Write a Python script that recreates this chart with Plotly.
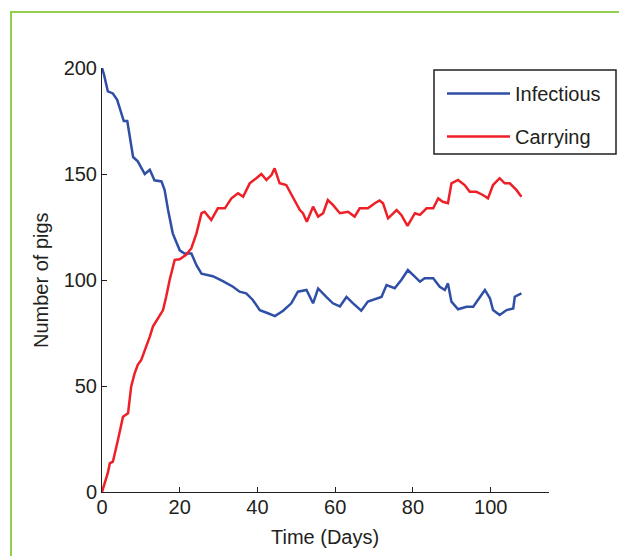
import plotly.graph_objects as go

# ---- data ----
inf_t = [0, 0.5, 1.5, 2.8, 3.9, 4.8, 5.6, 6.5, 7.1, 8, 9.2, 11, 12.3, 13.5, 15.3, 16.1, 17, 18.2, 20,
         21.2, 23, 24.3, 25.6, 28.5, 31.1, 33.7, 35.4, 37.1, 38.8, 39.7, 40.6, 42.7, 44.5, 46.6, 48.7,
         50.4, 52.6, 54.3, 55.6, 57.7, 59.4, 61.2, 62.9, 64.6, 66.7, 68.4, 70.6, 71.9, 73.2, 75.3, 77,
         78.7, 80, 81.8, 83, 85.2, 86.9, 88.2, 89, 89.9, 91.6, 93.8, 95.5, 97.2, 98.5, 99.8, 100.6,
         102.3, 104.1, 105.8, 106.2, 107.9]
inf_v = [200, 197, 189, 188, 185, 179, 175, 175, 168, 158, 156, 150, 152, 147, 146.5, 142.5, 133, 122, 114,
         112.5, 112.5, 107, 103, 101.8, 99.5, 96.8, 94.5, 93.7, 90.6, 88.2, 85.8, 84.3, 83, 85.5, 89,
         94.5, 95.3, 89, 96, 92, 89, 87.5, 92, 89, 85.5, 89.8, 91.4, 92, 97.6, 96.1, 100,
         104.7, 102.4, 99.2, 100.8, 100.8, 96.8, 95.3, 98.4, 89.8, 86.2, 87.4, 87.4, 92.1, 95.3, 91.4, 85.8,
         83.5, 85.8, 86.6, 92.1, 93.7]

car_t = [0, 0.5, 1.5, 2, 2.8, 4.1, 5.4, 6.7, 7.5, 8.4, 9.2, 10.1, 11.4, 12.3, 13.1, 14.4, 15.7, 16.5,
         17.4, 18.7, 20, 21.7, 23, 24.3, 25.6, 26.4, 28.1, 29.8, 31.6, 33.3, 35, 36.3, 38, 39.7, 41,
         42.3, 43.6, 44.4, 45.7, 47.4, 49.1, 50.9, 51.7, 52.7, 54.3, 55.6, 56.9, 58.1, 59.4, 61.2, 63.3,
         65, 66.3, 68.4, 70.2, 71.4, 72.3, 73.6, 75.8, 77, 78.6, 80.5, 81.8, 83.5, 85.2, 86.5, 87.7, 89,
         89.9, 91.6, 93.3, 94.6, 96.3, 98, 99.3, 100.6, 102.3, 103.6, 104.9, 106.6, 107.9]
car_v = [0, 3, 9, 13.5, 14.3, 24.5, 35.5, 37.1, 49.7, 56, 60, 62.3, 68.5, 73.3, 78, 82, 85.8, 92,
         100, 109.5, 109.8, 112, 115, 122, 131.5, 132.2, 128.3, 133.8, 133.8, 138.5, 140.9, 139.3, 145.6, 148, 150,
         147.2, 149.5, 152.7, 145.6, 144.8, 139.3, 133, 131.5, 127.5, 134.6, 129.9, 131.5, 137.7, 135.4, 131.5, 132.2,
         129.9, 133.8, 133.8, 136.2, 137.5, 136.2, 129.1, 133, 130.7, 125.5, 131.5, 130.7, 133.8, 133.8, 138.5, 136.9, 136.2,
         145.6, 147.2, 144.8, 141.6, 141.6, 140.1, 138.5, 144.8, 148, 145.6, 145.6, 142.5, 139.3]

x_ticks = [0, 20, 40, 60, 80, 100]
y_ticks = [0, 50, 100, 150, 200]
series_names = ["Infectious", "Carrying"]

# ---- layout geometry (page pixels; the page body has an 8px margin) ----
OFF = 8
W, H = 627, 548
L, R, T, B = 102, 549, 68, 492      # plot area in page pixels
FONT = "Liberation Sans, Arial, Helvetica, sans-serif"
TXT = "#231f20"
AX = "#231f20"
GREEN = "#92cf4f"
BLUE = "#2f4fa6"
RED = "#ee1f26"


def px2x(px):
    return (px - L) / (R - L)


def px2y(py):
    return (B - py) / (B - T)


fig = go.Figure()
fig.add_trace(go.Scatter(x=inf_t, y=inf_v, mode="lines", name=series_names[0],
                         legendgroup="a", line=dict(color=BLUE, width=2.5)))
fig.add_trace(go.Scatter(x=car_t, y=car_v, mode="lines", name=series_names[1],
                         legendgroup="b", line=dict(color=RED, width=2.5)))

axis_common = dict(showline=True, linecolor=AX, linewidth=1, ticks="inside", ticklen=5,
                   tickcolor=AX, tickwidth=1, showgrid=False, zeroline=False, mirror=False,
                   tickfont=dict(family=FONT, size=20, color=TXT))

fig.update_xaxes(range=[0, 115], tickvals=x_ticks, ticklabelstandoff=-3, **axis_common)
fig.update_yaxes(range=[0, 200], tickvals=y_ticks, **axis_common)

# green frame (left and top edges)
fig.add_shape(type="line", xref="paper", yref="paper", x0=px2x(11), x1=px2x(11),
              y0=px2y(12), y1=px2y(570), line=dict(color=GREEN, width=2))
fig.add_shape(type="line", xref="paper", yref="paper", x0=px2x(10), x1=px2x(640),
              y0=px2y(12), y1=px2y(12), line=dict(color=GREEN, width=2))

# legend frame
fig.add_shape(type="rect", xref="paper", yref="paper", x0=px2x(434), x1=px2x(616),
              y0=px2y(154), y1=px2y(70), line=dict(color="#231f20", width=1.5),
              fillcolor="rgba(0,0,0,0)", layer="above")

# axis titles
fig.add_annotation(text="Time (Days)", xref="paper", yref="paper", x=px2x(325), y=px2y(537),
                   showarrow=False, font=dict(family=FONT, size=20, color=TXT),
                   xanchor="center", yanchor="middle")
fig.add_annotation(text="Number of pigs", xref="paper", yref="paper", x=px2x(41), y=px2y(280),
                   showarrow=False, textangle=-90, font=dict(family=FONT, size=20, color=TXT),
                   xanchor="center", yanchor="middle")

fig.update_layout(
    width=W, height=H,
    margin=dict(l=L - OFF, r=W - (R - OFF), t=T - OFF, b=H - (B - OFF), autoexpand=False),
    paper_bgcolor="white", plot_bgcolor="white",
    showlegend=True,
    legend=dict(x=px2x(442), y=px2y(74), xanchor="left", yanchor="top",
                borderwidth=0, bgcolor="rgba(0,0,0,0)",
                font=dict(family=FONT, size=20, color=TXT),
                itemwidth=63, tracegroupgap=14, traceorder="grouped"),
)

fig.write_html("out.html")
